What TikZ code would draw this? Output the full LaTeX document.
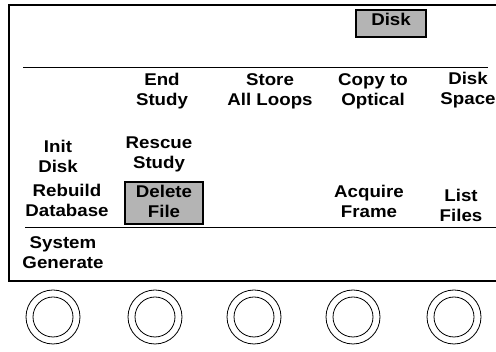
\documentclass[tikz,border=0pt]{standalone}
\usepackage{fontspec}
\newfontfamily\labfont[FakeStretch=1.1]{Liberation Sans}
\definecolor{boxgray}{HTML}{B4B4B4}
\begin{document}
\begin{tikzpicture}[x=1pt,y=-1pt,
  lab/.style={font=\labfont\bfseries\fontsize{17}{20}\selectfont, align=center, inner sep=0pt, anchor=base},
  graybox/.style={draw, line width=1.5pt, fill=boxgray},
  frameline/.style={line width=2pt},
  rule/.style={line width=1.6pt},
  knobout/.style={circle, draw, line width=0.8pt, minimum size=54pt, inner sep=0pt},
  knobin/.style={circle, draw, line width=0.8pt, minimum size=40pt, inner sep=0pt}]
\useasboundingbox (0,0) rectangle (496,352);
\clip (0,0) rectangle (496,352);
% frame
\coordinate (ftr) at (500,5);
\coordinate (ftl) at (9,5);
\coordinate (fbl) at (9,281);
\coordinate (fbr) at (500,281);
\draw[frameline] (ftr) -- (ftl) -- (fbl) -- (fbr);
% rules
\coordinate (r1a) at (23,67.5);
\coordinate (r1b) at (488,67.5);
\coordinate (r2a) at (25,227.5);
\coordinate (r2b) at (500,227.5);
\draw[rule] (r1a) -- (r1b);
\draw[rule] (r2a) -- (r2b);
% gray boxes
\draw[graybox] (356,10) rectangle (426,37);
\draw[graybox] (125,182) rectangle (203,224);
% labels (base anchor = baseline of last line)
\node[lab] (disk) at (391,26) {Disk};
\node[lab] (end) at (162,106) {End\\Study};
\node[lab] (store) at (270,106) {Store\\All Loops};
\node[lab] (copy) at (373,106) {Copy to\\Optical};
\node[lab] (space) at (468,105) {Disk\\Space};
\node[lab] (init) at (58,173) {Init\\Disk};
\node[lab] (rescue) at (159,169) {Rescue\\Study};
\node[lab] (rebuild) at (67,216.5) {Rebuild\\Database};
\node[lab] (delete) at (164,218) {Delete\\File};
\node[lab] (acquire) at (369,217.5) {Acquire\\Frame};
\node[lab] (list) at (461,222) {List\\Files};
\node[lab] (system) at (63,269) {System\\Generate};
% knobs
\foreach \i/\x in {1/53,2/155,3/254,4/353,5/454}{
  \node[knobout] (ko\i) at (\x,317) {};
  \node[knobin] (ki\i) at (\x,317) {};
}
\end{tikzpicture}
\end{document}
